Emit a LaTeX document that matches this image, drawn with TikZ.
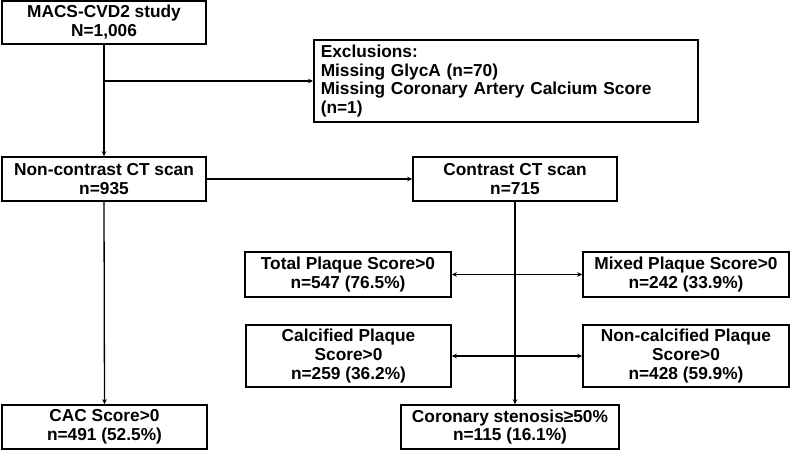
\documentclass[tikz,border=0pt]{standalone}
\usepackage{fontspec}
\setmainfont{Liberation Sans}
\usetikzlibrary{arrows.meta,positioning}

\begin{document}
\begin{tikzpicture}[x=1pt,y=-1pt,
	box/.style={draw=black,line width=1.5pt,align=center,inner sep=2pt,
		font=\bfseries\fontsize{17.3}{18.9}\selectfont},
	link/.style={line width=1.3pt,-{Stealth[length=5pt,width=4.5pt]}},
	both/.style={line width=1.3pt,{Stealth[length=5pt,width=4.5pt]}-{Stealth[length=5pt,width=4.5pt]}}]
	\useasboundingbox (0,0) rectangle (800,462);
	% top
	\node[box,minimum width=204pt,minimum height=43pt] (macs) at (104,22.5) {MACS-CVD2 study\\N=1,006};
	\node[box,anchor=west,align=left,text width=370pt,inner xsep=7pt,minimum height=82pt] (excl) at (313,81)
		{Exclusions:\\Missing GlycA (n=70)\\Missing Coronary Artery Calcium Score\\(n=1)};
	% scans
	\node[box,minimum width=204pt,minimum height=44pt] (noncon) at (104,179) {Non-contrast CT scan\\n=935};
	\node[box,minimum width=204pt,minimum height=44pt] (con) at (515,179) {Contrast CT scan\\n=715};
	% plaque
	\node[box,minimum width=206pt,minimum height=45pt] (total) at (348,274.5) {Total Plaque Score>0\\n=547 (76.5\%)};
	\node[box,minimum width=206pt,minimum height=45pt] (mixed) at (686,274.5) {Mixed Plaque Score>0\\n=242 (33.9\%)};
	\node[box,minimum width=205pt,minimum height=62pt] (calc) at (348.5,356) {Calcified Plaque\\Score>0\\n=259 (36.2\%)};
	\node[box,minimum width=206pt,minimum height=62pt] (noncalc) at (686,356) {Non-calcified Plaque\\Score>0\\n=428 (59.9\%)};
	% bottom
	\node[box,minimum width=205pt,minimum height=44pt] (cac) at (104.5,427) {CAC Score>0\\n=491 (52.5\%)};
	\node[box,minimum width=218pt,minimum height=44pt] (steno) at (510,427) {Coronary stenosis≥50\%\\n=115 (16.1\%)};
	\coordinate (split) at (macs.south |- excl.west);
	\draw[link] (macs.south) -- (noncon.north);
	\draw[link] (split) -- (excl.west);
	\draw[link] (noncon.east) -- (con.west);
	\draw[link] (noncon.south) -- (cac.north);
	\draw[link] (con.south) -- (con.south |- steno.north);
	\draw[both] (total.east) -- (mixed.west);
	\draw[both] (calc.east) -- (noncalc.west);
\end{tikzpicture}
\end{document}
